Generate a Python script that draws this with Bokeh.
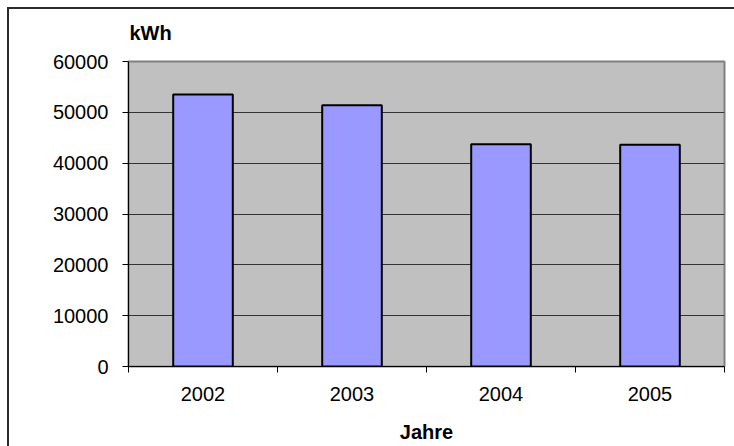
from bokeh.plotting import figure
from bokeh.models import FixedTicker, Title, Range1d, NumeralTickFormatter, ColumnDataSource
from bokeh.embed import file_html
from bokeh.resources import INLINE

years = ["2002", "2003", "2004", "2005"]
kwh = [53500, 51400, 43700, 43600]
y_ticks = [0, 10000, 20000, 30000, 40000, 50000, 60000]

FONT = "Liberation Sans"

xpos = [i + 0.5 for i in range(len(years))]
src = ColumnDataSource(dict(x=xpos, top=kwh, year=years))

outer_border = {
    "background": ("linear-gradient(#2a2a2a, #2a2a2a) 7px 7px / 2px 100% no-repeat, "
                   "linear-gradient(#2a2a2a, #2a2a2a) 7px 7px / 100% 2px no-repeat, #ffffff"),
}

p = figure(width=734, height=446, output_backend="svg", toolbar_location=None,
           x_range=Range1d(0, len(years)), y_range=Range1d(0, 60000),
           min_border_left=128, min_border_right=10, min_border_top=61, min_border_bottom=80,
           styles=outer_border)

p.background_fill_color = "#C0C0C0"
p.border_fill_color = None
p.outline_line_color = "#808080"
p.outline_line_width = 2

p.vbar(x="x", top="top", width=0.4, source=src, fill_color="#9999FF",
       line_color="black", line_width=2)

# y axis
p.yaxis.ticker = FixedTicker(ticks=y_ticks)
p.yaxis.formatter = NumeralTickFormatter(format="0")
p.yaxis.axis_line_color = "black"
p.yaxis.major_tick_line_color = "black"
p.yaxis.major_tick_out = 6
p.yaxis.major_tick_in = 0
p.yaxis.minor_tick_line_color = None
p.yaxis.major_label_standoff = 14
p.yaxis.major_label_text_font = FONT
p.yaxis.major_label_text_font_size = "20px"
p.yaxis.major_label_text_color = "black"

# x axis
p.xaxis.ticker = FixedTicker(ticks=xpos, minor_ticks=list(range(len(years) + 1)))
p.xaxis.major_label_overrides = {x: y for x, y in zip(xpos, years)}
p.xaxis.axis_line_color = "black"
p.xaxis.major_tick_line_color = None
p.xaxis.major_tick_out = 0
p.xaxis.major_tick_in = 0
p.xaxis.minor_tick_line_color = "black"
p.xaxis.minor_tick_out = 6
p.xaxis.minor_tick_in = 0
p.xaxis.major_label_standoff = 14
p.xaxis.major_label_text_font = FONT
p.xaxis.major_label_text_font_size = "20px"
p.xaxis.major_label_text_color = "black"
p.xaxis.axis_label = "Jahre"
p.xaxis.axis_label_text_font = FONT
p.xaxis.axis_label_text_font_size = "20px"
p.xaxis.axis_label_text_font_style = "bold"
p.xaxis.axis_label_text_color = "black"
p.xaxis.axis_label_standoff = 17

p.xgrid.visible = False
p.ygrid.grid_line_color = "#333333"
p.ygrid.grid_line_width = 1

t = Title(text="kWh", align="left", text_font=FONT, text_font_size="20px",
          text_font_style="bold", text_color="black", offset=1, standoff=36)
p.add_layout(t, "above")

open("out.html", "w").write(file_html(p, INLINE))
